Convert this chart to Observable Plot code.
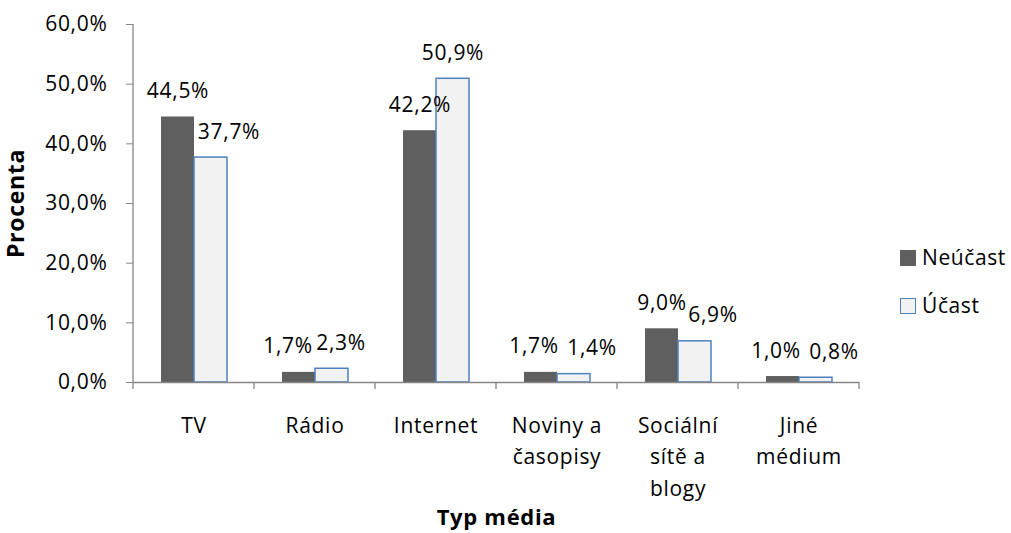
<!DOCTYPE html>
<html>
<head>
<meta charset="utf-8">
<script src="https://cdn.jsdelivr.net/npm/d3@7"></script>
<script src="https://cdn.jsdelivr.net/npm/@observablehq/plot@0.6"></script>
<style>
  html, body { margin: 0; padding: 0; background: #fff; }
  #wrap { position: relative; width: 1011px; height: 533px; font-family: "Open Sans", sans-serif; }
  .legend { position: absolute; left: 900px; font-size: 21px; letter-spacing: 0.6px; color: #000; display: flex; align-items: center; line-height: 1; }
  .sw { width: 16px; height: 16px; box-sizing: border-box; margin-right: 6px; }
</style>
</head>
<body>
<div id="wrap"></div>
<script>
// ---- data ----
const categories = ["TV", "Rádio", "Internet", "Noviny a časopisy", "Sociální sítě a blogy", "Jiné médium"];
const tickLabels = ["TV", "Rádio", "Internet", "Noviny a\nčasopisy", "Sociální\nsítě a\nblogy", "Jiné\nmédium"];
const series = ["Neúčast", "Účast"];
const neucast = [44.5, 1.7, 42.2, 1.7, 9.0, 1.0];
const ucast = [37.7, 2.3, 50.9, 1.4, 6.9, 0.8];
const yTicks = [0, 10, 20, 30, 40, 50, 60];
const fills = ["#5f5f5f", "#f2f2f2"];
const outline = "#4f81bd";
const axisGray = "#868686";

const fmt = v => v.toFixed(1).replace(".", ",") + "%";

// label collision offsets (like the spreadsheet's placement)
function labelDx(i, s) {
  const a = neucast[i], b = ucast[i];
  if (s === 0) {
    if (b > a && b - a < 3) return -11;
    if (Math.abs(a - b) < 1) return -7;
    return 0;
  }
  if (b < a) return 18;
  if (b - a < 3) return 9;
  return 0;
}

const rows = [];
categories.forEach((c, i) => {
  rows.push({category: c, series: series[0], value: neucast[i], dx: labelDx(i, 0)});
  rows.push({category: c, series: series[1], value: ucast[i], dx: labelDx(i, 1)});
});

const dxGroups = Array.from(new Set(rows.map(r => r.dx)));
const labelMarks = dxGroups.map(dx =>
  Plot.text(rows.filter(r => r.dx === dx), {
    fx: "category", x: "series", y: "value", text: d => fmt(d.value),
    dx, dy: -19, lineAnchor: "bottom", fill: "#000"
  })
);

const chart = Plot.plot({
  width: 1011,
  height: 533,
  marginLeft: 133,
  marginRight: 152,
  marginTop: 24,
  marginBottom: 151,
  style: {fontFamily: "'Open Sans', sans-serif", fontSize: "21px", letterSpacing: "0.7px", color: "#000", background: "#fff"},
  fx: {domain: categories, padding: 0},
  x: {domain: series, paddingInner: 0, paddingOuter: 0.78, axis: null},
  y: {domain: [0, 60]},
  marks: [
    Plot.barY(rows.filter(r => r.series === series[0]), {fx: "category", x: "series", y: "value", fill: fills[0]}),
    Plot.barY(rows.filter(r => r.series === series[1]), {fx: "category", x: "series", y: "value", fill: fills[1], stroke: outline, strokeWidth: 1.5}),
    Plot.ruleY([0], {stroke: axisGray, strokeWidth: 1.3}),
    Plot.axisY({ticks: yTicks, tickFormat: fmt, tickSize: 7, tickPadding: 19, stroke: axisGray, fill: "#000", label: null}),
    Plot.axisY({ticks: [], label: "Procenta", labelAnchor: "center", labelArrow: "none", labelOffset: 126, fontWeight: "bold", fontSize: 23, fill: "#000"}),
    Plot.axisFx({anchor: "bottom", tickFormat: d => tickLabels[categories.indexOf(d)], tickSize: 0, tickPadding: 28, lineHeight: 1.5, label: null, fill: "#000"}),
    Plot.axisFx({anchor: "bottom", ticks: [], label: "Typ média", labelAnchor: "center", labelArrow: "none", labelOffset: 142, fontWeight: "bold", fontSize: 22, fill: "#000"}),
    ...labelMarks
  ]
});

// y axis line and category boundary ticks, positioned with the plot's own scales
const fxS = chart.scale("fx"), yS = chart.scale("y");
const step = fxS.step ?? (fxS.range[1] - fxS.range[0]) / fxS.domain.length;
const edges = categories.map(c => fxS.apply(c)).concat([fxS.apply(categories[categories.length - 1]) + step]);
const y0 = yS.apply(0), yTop = yS.apply(60);
const g = d3.select(chart).append("g").attr("stroke", axisGray).attr("stroke-width", 1.3);
g.append("line").attr("x1", edges[0]).attr("x2", edges[0]).attr("y1", yTop).attr("y2", y0);
g.selectAll("line.tk").data(edges).join("line").attr("class", "tk")
  .attr("x1", d => d).attr("x2", d => d).attr("y1", y0).attr("y2", y0 + 7);

const wrap = document.getElementById("wrap");
wrap.appendChild(chart);

// legend
const legendTop = [251, 299];
series.forEach((s, i) => {
  const item = document.createElement("div");
  item.className = "legend";
  item.style.top = (legendTop[i] - 4) + "px";
  const sw = document.createElement("div");
  sw.className = "sw";
  sw.style.background = fills[i];
  if (i === 1) sw.style.border = "1.5px solid " + outline;
  item.appendChild(sw);
  const t = document.createElement("span");
  t.textContent = s;
  item.appendChild(t);
  wrap.appendChild(item);
});
</script>
</body>
</html>
